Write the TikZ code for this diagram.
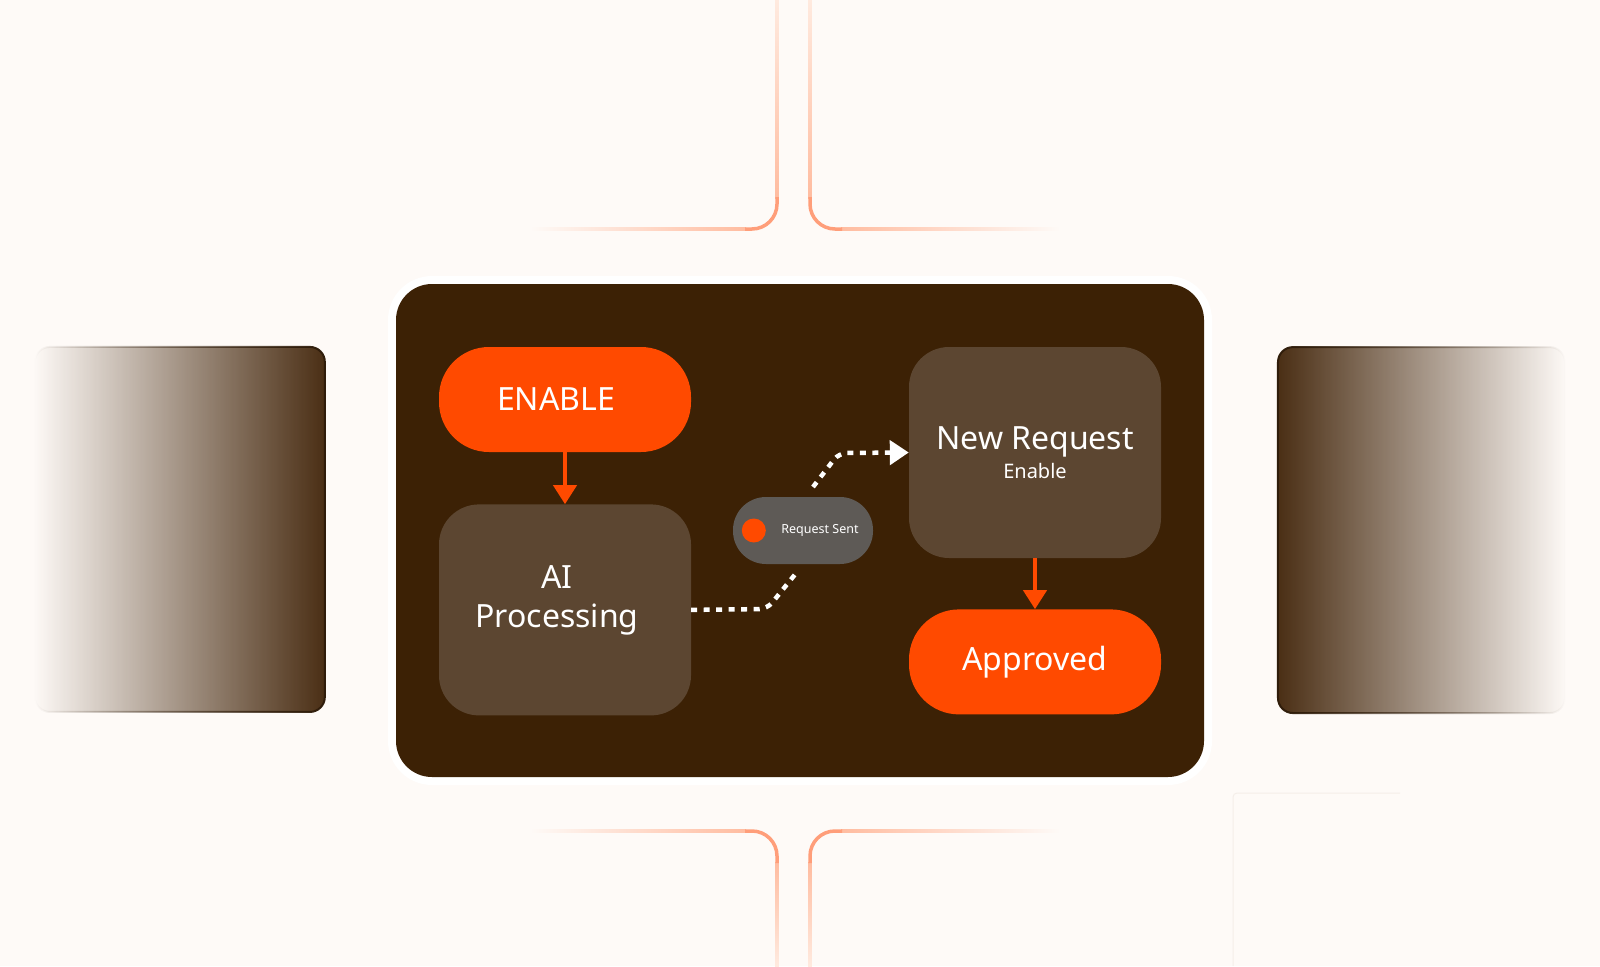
\documentclass[tikz,border=0pt]{standalone}
\usepackage{fontspec}
\setmainfont{Noto Sans}
\usetikzlibrary{positioning, arrows.meta, fadings}
\definecolor{bgcream}{RGB}{254, 250, 247}
\definecolor{panelbrown}{RGB}{60, 33, 5}
\definecolor{boxbrown}{RGB}{92, 70, 49}
\definecolor{floworange}{RGB}{255, 74, 0}
\definecolor{chipgray}{RGB}{94, 90, 86}
\definecolor{sidebrown}{RGB}{74, 46, 20}
\definecolor{sideedge}{RGB}{47, 28, 10}
\definecolor{decostrong}{RGB}{255, 188, 160}
\definecolor{decoarc}{RGB}{255, 158, 122}
\definecolor{decofaint}{RGB}{255, 234, 223}
\definecolor{ghostline}{RGB}{245, 238, 233}
\tikzfading[name=sidefadeL, left color=transparent!100, middle color=transparent!45, right color=transparent!0]
\tikzfading[name=sidefadeR, left color=transparent!0, middle color=transparent!45, right color=transparent!100]
\tikzset{
    flownode/.style={rectangle, minimum width=252pt, inner sep=0pt, text=white, align=center},
    orangenode/.style={flownode, fill=floworange, rounded corners=50pt, minimum height=105pt, font=\fontsize{32}{38}\selectfont},
    brownnode/.style={flownode, fill=boxbrown, rounded corners=40pt, minimum height=211pt, font=\fontsize{32}{29}\selectfont},
    boxlabel/.style={text=white, align=center, font=\fontsize{32}{39}\selectfont},
    chipnode/.style={rectangle, fill=chipgray, rounded corners=33pt, minimum width=140pt, minimum height=67pt},
    chiplabel/.style={text=white, font=\fontsize{12.5}{15}\selectfont},
    chipdot/.style={circle, fill=floworange, minimum size=24pt, inner sep=0pt},
    flowarrow/.style={draw=floworange, line width=4pt, -{Triangle[width=23pt, length=19pt]}},
    dotline/.style={draw=white, line width=4.5pt, dash pattern=on 6pt off 6.5pt, rounded corners=8pt},
    decocorner/.style={draw=decoarc, line width=3.5pt, rounded corners=25pt},
    sidepanel/.style={fill=sidebrown, draw=sideedge, line width=2pt, rounded corners=15pt}
}
\begin{document}
\begin{tikzpicture}[x=1pt, y=-1pt]
    \useasboundingbox (0,0) rectangle (1600,966);
    \fill[bgcream] (0,0) rectangle (1600,966);

    % guide lines above and below
    \shade[left color=bgcream, right color=decostrong] (530,227.2) rectangle (746,230.8);
    \shade[top color=decofaint, bottom color=decostrong] (775.2,0) rectangle (778.8,198);
    \draw[decocorner] (745,229) -| (777,197);
    \shade[left color=decostrong, right color=bgcream] (841,227.2) rectangle (1060,230.8);
    \shade[top color=decofaint, bottom color=decostrong] (808.2,0) rectangle (811.8,198);
    \draw[decocorner] (842,229) -| (810,197);
    \shade[left color=bgcream, right color=decostrong] (530,829.2) rectangle (746,832.8);
    \shade[top color=decostrong, bottom color=decofaint] (775.2,862) rectangle (778.8,966);
    \draw[decocorner] (745,831) -| (777,863);
    \shade[left color=decostrong, right color=bgcream] (841,829.2) rectangle (1060,832.8);
    \shade[top color=decostrong, bottom color=decofaint] (808.2,862) rectangle (811.8,966);
    \draw[decocorner] (842,831) -| (810,863);
    \draw[ghostline, line width=1pt, rounded corners=4pt] (1233,966) -- (1233,793) -- (1400,793);

    % side panels
    \path[sidepanel, path fading=sidefadeL] (35,347) rectangle (325,712);
    \path[sidepanel, path fading=sidefadeR] (1278,347) rectangle (1565,713);

    % main panel
    \fill[white, rounded corners=44pt] (388,276) rectangle (1212,785);
    \fill[panelbrown, rounded corners=36pt] (396,284) rectangle (1204,777);

    \node[orangenode] (enable) at (565,399.5) {ENABLE\hspace*{18pt}};
    \node[brownnode, below=52pt of enable, label={[boxlabel, xshift=-8pt, yshift=10pt]center:{AI\\Processing}}] (ai) {};
    \node[brownnode] (newreq) at (1035,452.5) {New Request\\{\fontsize{20}{29}\selectfont Enable}};
    \node[orangenode, below=51pt of newreq] (approved) {Approved};
    \node[chipnode, label={[chiplabel, xshift=17pt]center:Request Sent}] (reqsent) at (803,530.5) {};
    \node[chipdot] (dot) at ([xshift=21pt]reqsent.west) {};

    \draw[flowarrow] (enable) -- (ai);
    \draw[flowarrow] (newreq) -- (approved);

    \coordinate (bendlow) at (767,609);
    \coordinate (dotend) at (797,572);
    \coordinate (dotstart) at (813,487);
    \coordinate (bendhigh) at (839,453);
    \draw[dotline] (ai.east) -- (bendlow) -- (dotend);
    \draw[dotline, -{Triangle[width=24pt, length=19pt]}] (dotstart) -- (bendhigh) -- (newreq.west);
\end{tikzpicture}
\end{document}
